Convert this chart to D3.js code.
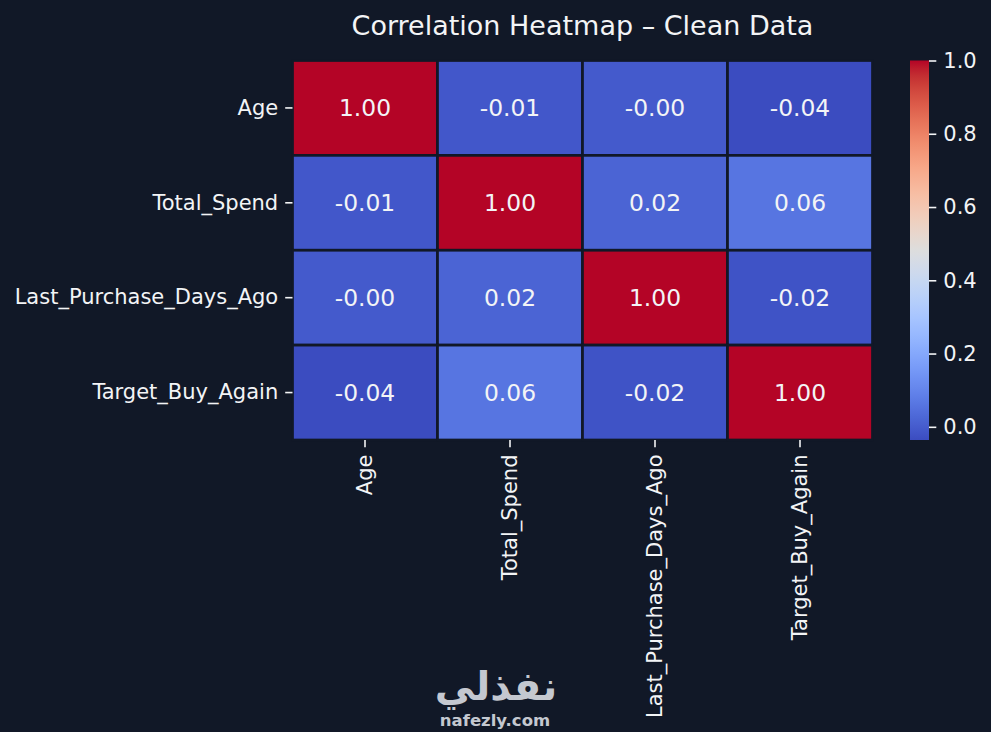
<!DOCTYPE html>
<html lang="en">
<head>
    <meta charset="UTF-8">
    <title>Correlation Heatmap</title>
    <script src="https://d3js.org/d3.v7.min.js"></script>
    <style>
        body { margin: 0; background: #111827; }
        text { font-family: "DejaVu Sans", sans-serif; fill: #f3f4f6; }
    </style>
</head>
    <body>
        <script>
            const variables = ['Age', 'Total_Spend', 'Last_Purchase_Days_Ago', 'Target_Buy_Again']

            // correlation matrix, row by row
            const ageRow    = [ 1.000, -0.010, -0.003, -0.036 ]
            const spendRow  = [ -0.010, 1.000, 0.020, 0.060 ]
            const lastRow   = [ -0.003, 0.020, 1.000, -0.020 ]
            const targetRow = [ -0.036, 0.060, -0.020, 1.000 ]
            const matrix = [ ageRow, spendRow, lastRow, targetRow ]

            const colorbarTicks = [ 0.0, 0.2, 0.4, 0.6, 0.8, 1.0 ]

            // matplotlib "coolwarm" (Moreland) control colours
            const coolwarm = ['#3b4cc0','#445acc','#4d68d7','#5775e1','#6282ea','#6c8ef1','#779af7','#82a5fb',
                '#8db0fe','#98b9ff','#a3c2ff','#aec9fd','#b8d0f9','#c2d5f4','#ccd9ee','#d5dbe6','#dddddd',
                '#e5d8d1','#ecd3c5','#f1ccb9','#f5c4ad','#f7bba0','#f7b194','#f7a687','#f49a7b','#f18d6f',
                '#ec7f63','#e57058','#de604d','#d55042','#cb3e38','#c0282f','#b40426']

            const width = 991
            const height = 732
            const bg = '#111827'

            const plot = { left: 292.5, right: 872.5, top: 60.5, bottom: 440 }
            const cbar = { left: 910, right: 929 }

            const cells = []
            matrix.forEach((row, i) => row.forEach((v, j) => cells.push({ row: variables[i], col: variables[j], value: v })))

            const vmin = d3.min(cells, d => d.value)
            const vmax = d3.max(cells, d => d.value)

            const interp = d3.piecewise(d3.interpolateRgb, coolwarm)
            const color = d3.scaleSequential(interp).domain([ vmin, vmax ])

            const xScale = d3.scaleBand().domain(variables).range([ plot.left, plot.right ])
            const yScale = d3.scaleBand().domain(variables).range([ plot.top, plot.bottom ])

            const svg = d3.select('body').append('svg').attr('width', width).attr('height', height)

            svg.append('rect').attr('width', width).attr('height', height).attr('fill', bg)

            // cells
            svg.append('g')
                .attr('class', 'cells')
                .selectAll('rect')
                .data(cells)
                .join('rect')
                .attr('x', d => xScale(d.col))
                .attr('y', d => yScale(d.row))
                .attr('width', xScale.bandwidth())
                .attr('height', yScale.bandwidth())
                .attr('fill', d => color(d.value))
                .attr('stroke', bg)
                .attr('stroke-width', 2.7)

            // annotations
            svg.append('g')
                .attr('class', 'annot')
                .selectAll('text')
                .data(cells)
                .join('text')
                .attr('x', d => xScale(d.col) + xScale.bandwidth() / 2)
                .attr('y', d => yScale(d.row) + yScale.bandwidth() / 2)
                .attr('dy', '0.36em')
                .attr('text-anchor', 'middle')
                .style('font-size', '23.4px')
                .text(d => d.value.toFixed(2))

            // axes
            const xAxis = d3.axisBottom(xScale).tickSize(7.3).tickPadding(7)
            const yAxis = d3.axisLeft(yScale).tickSize(7.3).tickPadding(7)

            const gx = svg.append('g')
                .attr('class', 'x-axis')
                .attr('transform', `translate(0,${ plot.bottom })`)
                .call(xAxis)
            gx.select('.domain').remove()
            gx.selectAll('line').attr('stroke', '#f3f4f6').attr('stroke-width', 1.6)
            gx.selectAll('text')
                .attr('transform', 'rotate(-90)')
                .attr('x', -14.5)
                .attr('y', 0)
                .attr('dy', '0.35em')
                .attr('text-anchor', 'end')
                .style('font-size', '21px')
                .attr('fill', '#f3f4f6')

            const gy = svg.append('g')
                .attr('class', 'y-axis')
                .attr('transform', `translate(${ plot.left },0)`)
                .call(yAxis)
            gy.select('.domain').remove()
            gy.selectAll('line').attr('stroke', '#f3f4f6').attr('stroke-width', 1.6)
            gy.selectAll('text').style('font-size', '21px').attr('fill', '#f3f4f6')

            // colorbar
            const cScale = d3.scaleLinear().domain([ vmin, vmax ]).range([ plot.bottom, plot.top ])

            const grad = svg.append('defs').append('linearGradient')
                .attr('id', 'cbar-grad')
                .attr('x1', 0).attr('y1', 1).attr('x2', 0).attr('y2', 0)
            grad.selectAll('stop')
                .data(d3.range(0, 1.0001, 0.02))
                .join('stop')
                .attr('offset', t => t)
                .attr('stop-color', t => interp(t))

            svg.append('rect')
                .attr('x', cbar.left)
                .attr('y', plot.top)
                .attr('width', cbar.right - cbar.left)
                .attr('height', plot.bottom - plot.top)
                .attr('fill', 'url(#cbar-grad)')

            const gc = svg.append('g')
                .attr('class', 'cbar-axis')
                .attr('transform', `translate(${ cbar.right },0)`)
                .call(d3.axisRight(cScale).tickValues(colorbarTicks).tickFormat(d3.format('.1f')).tickSize(7.3).tickPadding(7))
            gc.select('.domain').remove()
            gc.selectAll('line').attr('stroke', '#f3f4f6').attr('stroke-width', 1.6)
            gc.selectAll('text').style('font-size', '21px').attr('fill', '#f3f4f6')

            // title
            svg.append('text')
                .attr('x', (plot.left + plot.right) / 2)
                .attr('y', 35)
                .attr('text-anchor', 'middle')
                .style('font-size', '27px')
                .text('Correlation Heatmap – Clean Data')

            // watermark
            svg.append('text')
                .attr('x', 496)
                .attr('y', 700)
                .attr('text-anchor', 'middle')
                .style('font-size', '40px')
                .style('font-weight', 'bold')
                .style('fill', '#c4c8d0')
                .text('نفذلي')

            svg.append('text')
                .attr('x', 495)
                .attr('y', 726)
                .attr('text-anchor', 'middle')
                .style('font-size', '16.5px')
                .style('font-weight', 'bold')
                .style('fill', '#c4c8d0')
                .text('nafezly.com')
        </script>
    </body>
</html>
